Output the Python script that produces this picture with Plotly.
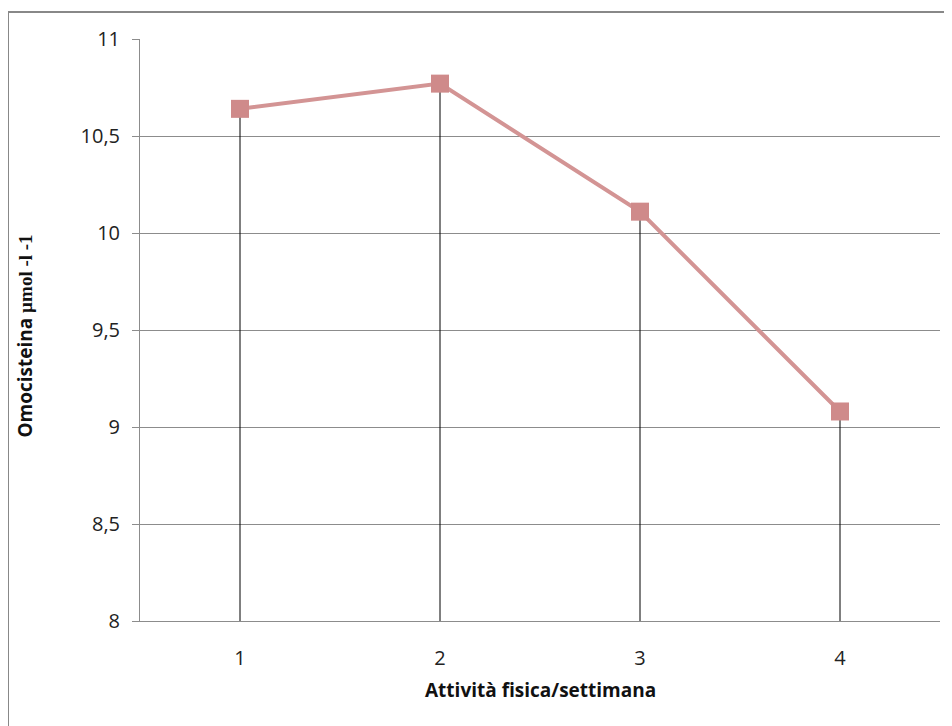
import plotly.graph_objects as go

categories = [1, 2, 3, 4]
tick_labels = ["1", "2", "3", "4"]
omocisteina = [10.64, 10.77, 10.11, 9.08]
y_min = 8
y_ticks = [8, 8.5, 9, 9.5, 10, 10.5, 11]
y_tick_labels = ["8", "8,5", "9", "9,5", "10", "10,5", "11"]

drop = [v - y_min for v in omocisteina]

fig = go.Figure()

# drop lines from each point to the axis (via error bars)
fig.add_trace(go.Scatter(
    x=categories, y=omocisteina, mode="markers",
    marker=dict(size=1, color="rgba(0,0,0,0)"),
    error_y=dict(type="data", symmetric=False, array=[0]*len(drop), arrayminus=drop,
                 color="#000000", thickness=1, width=0),
    showlegend=False, hoverinfo="skip",
))

fig.add_trace(go.Scatter(
    x=categories, y=omocisteina, mode="lines+markers",
    line=dict(color="#D39494", width=4),
    marker=dict(symbol="square", size=18, color="#CF8A8A"),
    showlegend=False,
))

font_sans = "Open Sans, Liberation Sans, sans-serif"

fig.update_layout(
    width=944, height=718,
    margin=dict(l=132, r=12, t=31, b=105),
    paper_bgcolor="white", plot_bgcolor="white",
    font=dict(family=font_sans, size=20, color="#222222"),
    xaxis=dict(
        range=[0.5, 4.5], tickvals=categories, ticktext=tick_labels,
        showgrid=False, zeroline=False, showline=True, linecolor="#8c8c8c", linewidth=1,
        ticks="", ticklabelstandoff=19, tickfont=dict(size=20),
    ),
    yaxis=dict(
        range=[8, 11], tickvals=y_ticks, ticktext=y_tick_labels,
        showgrid=True, gridcolor="#8c8c8c", gridwidth=1, zeroline=False,
        showline=True, linecolor="#8c8c8c", linewidth=1,
        ticks="outside", ticklen=7, tickcolor="#8c8c8c", ticklabelstandoff=8,
        tickfont=dict(size=20),
    ),
    annotations=[
        dict(text="<b>Attività fisica/settimana</b>", xref="paper", yref="paper",
             x=0.5, y=-0.118, xanchor="center", yanchor="middle", showarrow=False,
             font=dict(size=19, family=font_sans, color="#111111")),
        dict(text="<b>Omocisteina <span style='font-family:Liberation Serif, serif'>µmol -l -1</span></b>",
             xref="paper", yref="paper", x=-0.144, y=0.49, xanchor="center", yanchor="middle",
             textangle=-90, showarrow=False,
             font=dict(size=19, family=font_sans, color="#111111")),
    ],
    shapes=[
        dict(type="rect", xref="paper", yref="paper", x0=-0.165, x1=1.05, y0=-0.25, y1=1.0464,
             line=dict(color="#888888", width=2), fillcolor="rgba(0,0,0,0)", layer="below"),
    ],
)

fig.write_html("out.html")
